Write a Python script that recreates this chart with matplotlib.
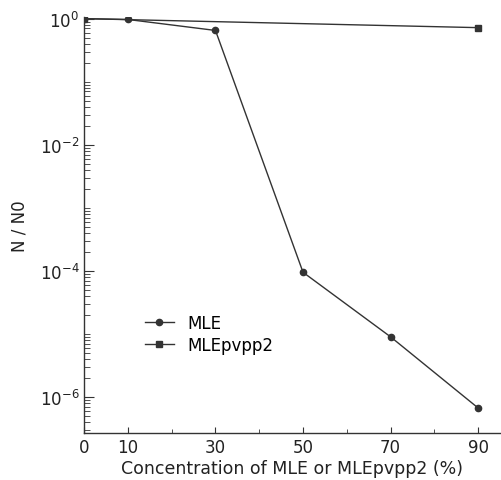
import matplotlib
matplotlib.use('Agg')
import matplotlib.pyplot as plt
import matplotlib.ticker as mticker
import numpy as np

# concentration (%) and surviving fraction N/N0
conc_mle = [0, 10, 30, 50, 70, 90]
surv_mle = [1.0, 0.97, 0.65, 9.5e-5, 9.0e-6, 6.7e-7]

conc_pvpp = [0, 90]
surv_pvpp = [1.0, 0.72]

xticks = [0, 10, 30, 50, 70, 90]

fig = plt.figure(figsize=(5.01, 4.81), dpi=100)
ax = fig.add_axes([0.168, 0.098, 0.83, 0.865])

ink = '#333333'
ax.plot(conc_mle, surv_mle, '-o', color=ink, lw=1.0, ms=4.5, label='MLE')
ax.plot(conc_pvpp, surv_pvpp, '-s', color=ink, lw=1.0, ms=4.5, label='MLEpvpp2')

ax.set_yscale('log')
ax.set_xlim(0, 95)
ax.set_ylim(2.7e-7, 1.07)

ax.set_xticks(xticks)
ax.set_xticks([20, 40, 60, 80], minor=True)
ax.yaxis.set_major_locator(mticker.FixedLocator([1e0, 1e-2, 1e-4, 1e-6]))
ax.yaxis.set_minor_locator(mticker.LogLocator(base=10, subs=np.arange(1, 10), numticks=20))
ax.yaxis.set_minor_formatter(mticker.NullFormatter())

ax.tick_params(direction='in', which='both', color=ink, labelcolor='#222222', labelsize=12)
ax.tick_params(axis='y', which='major', length=7)
ax.tick_params(axis='y', which='minor', length=4)
ax.tick_params(axis='x', which='major', length=4)
ax.tick_params(axis='x', which='minor', length=3)

for s in ['top', 'right']:
    ax.spines[s].set_visible(False)
for s in ['left', 'bottom']:
    ax.spines[s].set_color(ink)
    ax.spines[s].set_linewidth(1.0)

ax.set_ylabel('N / N0', fontsize=12, color='#222222', labelpad=8)
ax.set_xlabel('Concentration of MLE or MLEpvpp2 (%)', fontsize=12.5, color='#222222', labelpad=2)

ax.legend(loc='center left', bbox_to_anchor=(0.11, 0.238), frameon=False, fontsize=12,
          handlelength=1.75, handletextpad=0.8, labelspacing=0.2)

fig.savefig('out.png', dpi=100)
